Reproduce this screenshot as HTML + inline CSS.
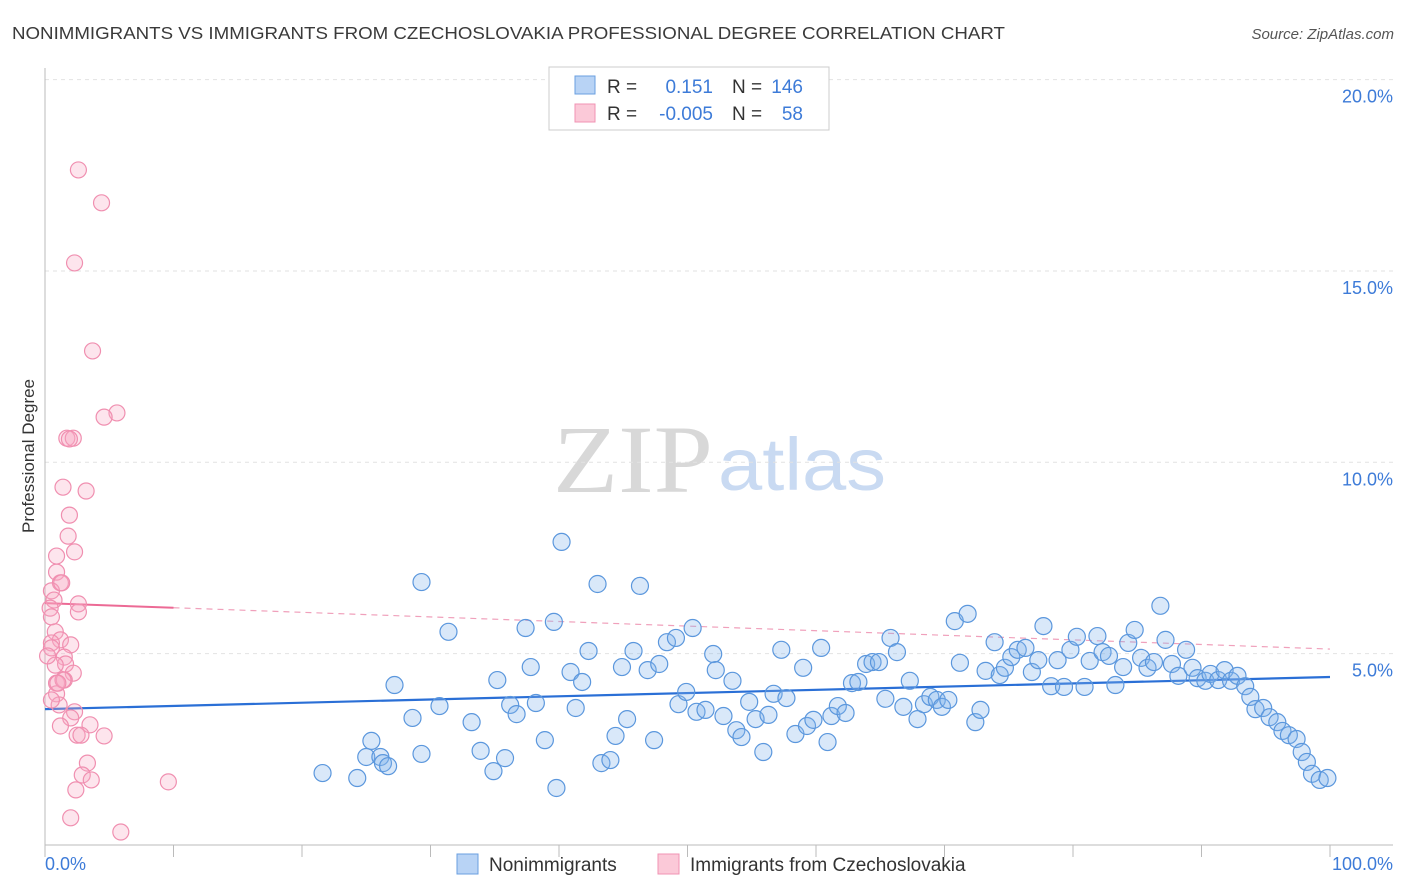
<!DOCTYPE html>
<html><head><meta charset="utf-8">
<style>
body{margin:0;background:#fff;font-family:"Liberation Sans",sans-serif;}
#wrap{position:relative;width:1406px;height:892px;overflow:hidden;}
</style></head>
<body>
<div id="wrap">
<svg id="svg" width="1406" height="892" xmlns="http://www.w3.org/2000/svg">
<text x="12" y="39" font-size="17.5" fill="#3a3a3a" textLength="993" lengthAdjust="spacingAndGlyphs">NONIMMIGRANTS VS IMMIGRANTS FROM CZECHOSLOVAKIA PROFESSIONAL DEGREE CORRELATION CHART</text>
<text x="1394" y="39" font-size="15" fill="#555" font-style="italic" text-anchor="end">Source: ZipAtlas.com</text>
<text x="34" y="456" font-size="17" fill="#333" text-anchor="middle" transform="rotate(-90 34 456)">Professional Degree</text>
<g>
<text x="553" y="492" font-size="96" font-family="Liberation Serif,serif" fill="#d8d8d8" textLength="160" lengthAdjust="spacingAndGlyphs">ZIP</text>
<text x="718" y="490" font-size="74" fill="#c9daf2" textLength="168" lengthAdjust="spacingAndGlyphs">atlas</text>
</g>
<g id="grid"></g><g id="axes"></g><g id="trend"></g><g id="pts"></g>
<g>
<rect x="549" y="67" width="280" height="63" fill="#fff" stroke="#ccc"/>
<rect x="575" y="76" width="20" height="18" fill="#b8d3f5" stroke="#6a9fe0"/>
<rect x="575" y="104" width="20" height="18" fill="#fbc9d8" stroke="#f093b3"/>
<text x="607" y="93" font-size="19" fill="#333">R =</text>
<text x="713" y="93" font-size="19" fill="#3d7bd8" text-anchor="end">0.151</text>
<text x="732" y="93" font-size="19" fill="#333">N =</text>
<text x="803" y="93" font-size="19" fill="#3d7bd8" text-anchor="end">146</text>
<text x="607" y="120" font-size="19" fill="#333">R =</text>
<text x="713" y="120" font-size="19" fill="#3d7bd8" text-anchor="end">-0.005</text>
<text x="732" y="120" font-size="19" fill="#333">N =</text>
<text x="803" y="120" font-size="19" fill="#3d7bd8" text-anchor="end">58</text>
</g>
<g>
<rect x="457" y="854" width="21" height="20" fill="#b8d3f5" stroke="#6a9fe0"/>
<text x="489" y="871" font-size="19" fill="#333">Nonimmigrants</text>
<rect x="658" y="854" width="21" height="20" fill="#fbc9d8" stroke="#f093b3"/>
<text x="690" y="871" font-size="19" fill="#333">Immigrants from Czechoslovakia</text>
</g>
</svg>
</div>
<script>
const blueX=[21.6,24.3,25.4,25.0,26.1,26.3,26.7,27.2,28.6,29.3,29.3,30.7,31.4,33.2,33.9,34.9,35.2,35.8,36.2,36.7,37.8,38.2,38.9,39.8,37.4,39.6,40.2,40.9,41.3,41.8,42.3,43.0,43.3,44.0,44.4,44.9,45.3,45.8,46.3,46.9,47.4,47.8,48.4,49.1,49.3,49.9,50.4,50.7,51.4,52.0,52.2,52.8,53.5,53.8,54.2,54.8,55.3,55.9,56.3,56.7,57.3,57.7,58.4,59.0,59.3,59.8,60.4,60.9,61.2,61.7,62.3,62.8,63.3,63.9,64.4,64.9,65.4,65.8,66.3,66.8,67.3,67.9,68.4,68.9,69.4,69.8,70.3,70.8,71.2,71.8,72.4,72.8,73.2,73.9,74.3,74.7,75.2,75.7,76.3,76.8,77.3,77.7,78.3,78.8,79.3,79.8,80.3,80.9,81.3,81.9,82.3,82.8,83.3,83.9,84.3,84.8,85.3,85.8,86.3,86.8,87.2,87.7,88.2,88.8,89.3,89.7,90.3,90.7,91.3,91.8,92.3,92.8,93.4,93.8,94.2,94.8,95.3,95.9,96.3,96.8,97.4,97.8,98.2,98.6,99.2,99.8];
const blueY=[1.88,1.75,2.72,2.30,2.30,2.14,2.06,4.18,3.32,2.38,6.87,3.63,5.57,3.21,2.46,1.93,4.31,2.27,3.66,3.42,4.65,3.71,2.74,1.49,5.67,5.83,7.92,4.52,3.58,4.26,5.07,6.82,2.14,2.22,2.85,4.65,3.29,5.07,6.77,4.57,2.74,4.73,5.30,5.41,3.68,4.00,5.67,3.48,3.53,4.99,4.57,3.37,4.29,3.00,2.82,3.74,3.29,2.43,3.40,3.95,5.10,3.84,2.90,4.63,3.11,3.27,5.15,2.69,3.37,3.63,3.45,4.23,4.26,4.73,4.78,4.78,3.82,5.41,5.04,3.61,4.29,3.29,3.68,3.87,3.79,3.61,3.79,5.85,4.76,6.04,3.21,3.53,4.55,5.30,4.44,4.63,4.91,5.10,5.15,4.52,4.83,5.72,4.15,4.83,4.13,5.10,5.44,4.13,4.81,5.46,5.04,4.94,4.18,4.65,5.28,5.62,4.89,4.63,4.78,6.25,5.36,4.73,4.42,5.10,4.63,4.36,4.29,4.47,4.31,4.57,4.29,4.42,4.15,3.87,3.55,3.58,3.34,3.21,2.98,2.87,2.77,2.43,2.17,1.86,1.70,1.75];
const pinkX=[2.6,4.4,2.3,3.7,5.6,4.6,1.7,2.2,1.9,1.4,3.2,1.9,1.8,2.3,0.9,0.9,1.2,0.5,1.3,0.7,2.6,0.4,0.5,2.6,0.8,1.2,2.0,0.5,1.5,1.6,2.2,0.9,1.5,0.9,1.4,1.1,2.3,2.0,1.2,3.5,2.5,2.8,4.6,3.3,2.9,3.6,2.4,9.6,2.0,5.9,0.5,0.8,0.2,0.5,1.0];
const pinkY=[17.64,16.78,15.21,12.91,11.29,11.18,10.63,10.63,10.61,9.35,9.25,8.62,8.07,7.66,7.55,7.13,6.85,6.64,6.85,6.40,6.30,6.19,5.96,6.09,5.57,5.36,5.23,5.28,4.91,4.73,4.49,4.23,4.31,3.95,4.31,3.66,3.48,3.32,3.11,3.14,2.87,2.87,2.85,2.14,1.83,1.70,1.44,1.65,0.71,0.34,5.15,4.70,4.94,3.79,4.23];
const blueTrend=[3.55,4.39];   // value at x=0, x=100
const pinkTrend=[6.32,5.12];
const yTicks=[5,10,15,20];
const yTickLabels=["5.0%","10.0%","15.0%","20.0%"];
const xTicks=[0,10,20,30,40,50,60,70,80,90,100];

const NS="http://www.w3.org/2000/svg";
const X0=45,X1=1330,Y0=845,PY=38.27;
const sx=v=>X0+(X1-X0)*v/100;
const sy=v=>Y0-PY*v;
function mk(tag,attrs,parent){const e=document.createElementNS(NS,tag);for(const k in attrs)e.setAttribute(k,attrs[k]);parent.appendChild(e);return e;}
const grid=document.getElementById('grid'),axes=document.getElementById('axes'),trend=document.getElementById('trend'),pts=document.getElementById('pts');
yTicks.forEach((t,i)=>{
  const l=mk('line',{x1:X0,x2:1393,y1:sy(t),y2:sy(t),stroke:'#e2e2e2','stroke-dasharray':'4,4'},grid);
  
  
  const tx=mk('text',{x:1393,y:sy(t)+23,'font-size':18,fill:'#3d7bd8','text-anchor':'end'},grid);
  tx.textContent=yTickLabels[i];
  
  
});
const ax=mk('line',{x1:X0,x2:1393,y1:Y0,y2:Y0,stroke:'#bbb'},axes);


const ay=mk('line',{x1:X0,x2:X0,y1:68,y2:Y0,stroke:'#bbb'},axes);


xTicks.forEach(t=>{
  const l=mk('line',{x1:sx(t),x2:sx(t),y1:Y0,y2:Y0+12,stroke:'#bbb'},axes);
  
  
});
const xl0=mk('text',{x:45,y:870,'font-size':18,fill:'#3d7bd8'},axes);xl0.textContent='0.0%';


const xl1=mk('text',{x:1393,y:870,'font-size':18,fill:'#3d7bd8','text-anchor':'end'},axes);xl1.textContent='100.0%';



pinkX.forEach((x,i)=>{
  const c=mk('circle',{cx:sx(x),cy:sy(pinkY[i]),r:8,fill:'rgba(248,170,196,0.3)',stroke:'#f08fb0','stroke-width':1.2},pts);
  
  
});
blueX.forEach((x,i)=>{
  const c=mk('circle',{cx:sx(x),cy:sy(blueY[i]),r:8.5,fill:'rgba(130,180,235,0.3)',stroke:'#5b97dd','stroke-width':1.2},pts);
  
  
});
const bt=mk('line',{x1:sx(0),y1:sy(blueTrend[0]),x2:sx(100),y2:sy(blueTrend[1]),stroke:'#2a6fd6','stroke-width':2.2},trend);


const pv=x=>pinkTrend[0]+(pinkTrend[1]-pinkTrend[0])*x/100;
const pt1=mk('line',{x1:sx(0),y1:sy(pv(0)),x2:sx(10),y2:sy(pv(10)),stroke:'#ec6a95','stroke-width':2},trend);


const pt2=mk('line',{x1:sx(10),y1:sy(pv(10)),x2:sx(100),y2:sy(pv(100)),stroke:'#f0a0bb','stroke-width':1.2,'stroke-dasharray':'6,5'},trend);


</script>
</body></html>
